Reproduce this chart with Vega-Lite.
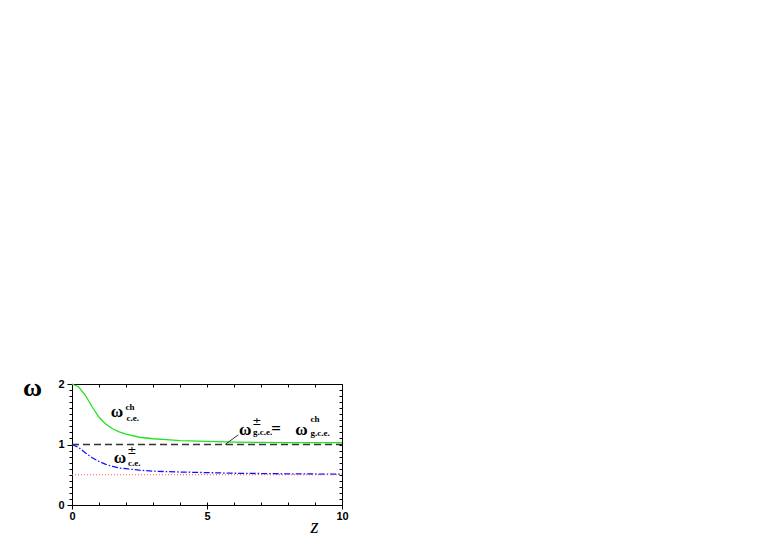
{
  "$schema": "https://vega.github.io/schema/vega-lite/v6.json",
  "width": 270,
  "height": 121,
  "autosize": "none",
  "padding": {"left": 72, "top": 384, "right": 421, "bottom": 40},
  "background": "white",
  "config": {
    "view": {"stroke": "black", "strokeWidth": 1},
    "axis": {"grid": false, "domain": false, "tickColor": "black", "tickWidth": 1, "labelFlush": false, "labelOverlap": false,
      "labelFont": "Liberation Sans", "labelFontWeight": "bold", "labelFontSize": 11, "labelColor": "black"}
  },
  "datasets": {
    "green": [
      {"z": 0, "w": 2.0}, {"z": 0.25, "w": 1.95}, {"z": 0.5, "w": 1.81}, {"z": 0.75, "w": 1.62},
      {"z": 1.0, "w": 1.45}, {"z": 1.25, "w": 1.34}, {"z": 1.5, "w": 1.26}, {"z": 1.75, "w": 1.21},
      {"z": 2.0, "w": 1.17}, {"z": 2.5, "w": 1.12}, {"z": 3.0, "w": 1.095}, {"z": 3.5, "w": 1.08},
      {"z": 4.0, "w": 1.065}, {"z": 5.0, "w": 1.05}, {"z": 6.0, "w": 1.04}, {"z": 7.0, "w": 1.035},
      {"z": 8.0, "w": 1.032}, {"z": 9.0, "w": 1.03}, {"z": 10.0, "w": 1.03}
    ],
    "blue": [
      {"z": 0, "w": 1.0}, {"z": 0.25, "w": 0.95}, {"z": 0.5, "w": 0.86}, {"z": 0.75, "w": 0.78},
      {"z": 1.0, "w": 0.72}, {"z": 1.25, "w": 0.67}, {"z": 1.5, "w": 0.64}, {"z": 1.75, "w": 0.61},
      {"z": 2.0, "w": 0.6}, {"z": 2.5, "w": 0.575}, {"z": 3.0, "w": 0.56}, {"z": 4.0, "w": 0.545},
      {"z": 5.0, "w": 0.535}, {"z": 6.0, "w": 0.525}, {"z": 7.0, "w": 0.52}, {"z": 8.0, "w": 0.515},
      {"z": 9.0, "w": 0.512}, {"z": 10.0, "w": 0.51}
    ],
    "one": [{"z": 0, "w": 1.0}, {"z": 10, "w": 1.0}],
    "half": [{"z": 0, "w": 0.5}, {"z": 10, "w": 0.5}],
    "leader": [{"z": 5.67, "w": 1.0}, {"z": 6.16, "w": 1.16}],
    "omegas": [
      {"z": 1.667, "w": 1.54, "t": "ω"},
      {"z": 1.78, "w": 0.77, "t": "ω"},
      {"z": 6.42, "w": 1.24, "t": "ω"},
      {"z": 7.56, "w": 1.26, "t": "="},
      {"z": 8.5, "w": 1.24, "t": "ω"}
    ],
    "scripts": [
      {"z": 1.98, "w": 1.62, "t": "ch"},
      {"z": 2.02, "w": 1.44, "t": "c.e."},
      {"z": 2.05, "w": 0.9, "t": "±"},
      {"z": 2.07, "w": 0.69, "t": "c.e."},
      {"z": 6.68, "w": 1.37, "t": "±"},
      {"z": 6.7, "w": 1.2, "t": "g.c.e."},
      {"z": 8.83, "w": 1.42, "t": "ch"},
      {"z": 8.83, "w": 1.19, "t": "g.c.e."}
    ]
  },
  "resolve": {"axis": {"x": "independent", "y": "independent"}},
  "layer": [
    {
      "data": {"name": "green"},
      "mark": {"type": "line", "color": "#22e022", "strokeWidth": 1.3},
      "encoding": {
        "x": {"field": "z", "type": "quantitative", "scale": {"domain": [0, 10], "nice": false},
          "axis": {"orient": "bottom", "values": [0, 5, 10], "labelExpr": "toString(datum.value)", "tickSize": 4, "labelPadding": 1,
            "title": "z", "titleFont": "Liberation Serif", "titleFontStyle": "italic", "titleFontWeight": "normal",
            "titleFontSize": 21, "titleX": 242, "titleY": 21, "titleAlign": "center", "titleBaseline": "middle"}},
        "y": {"field": "w", "type": "quantitative", "scale": {"domain": [0, 2], "nice": false},
          "axis": {"orient": "left", "values": [0, 1, 2], "labelExpr": "toString(datum.value)", "tickSize": 5, "labelPadding": 3,
            "title": "ω", "titleFont": "Liberation Serif", "titleFontWeight": "bold", "titleFontSize": 26,
            "titleAngle": 0, "titleX": -40, "titleY": 3, "titleAlign": "center", "titleBaseline": "middle"}}
      }
    },
    {
      "data": {"name": "blue"},
      "mark": {"type": "line", "color": "#1010ff", "strokeWidth": 1.3, "strokeDash": [6, 2, 1.5, 2]},
      "encoding": {
        "x": {"field": "z", "type": "quantitative",
          "axis": {"orient": "bottom", "values": [0, 1, 2, 3, 4, 5, 6, 7, 8, 9, 10], "tickSize": -3, "labels": false, "title": null}},
        "y": {"field": "w", "type": "quantitative",
          "axis": {"orient": "left", "values": [0, 0.1, 0.2, 0.3, 0.4, 0.5, 0.6, 0.7, 0.8, 0.9, 1, 1.1, 1.2, 1.3, 1.4, 1.5, 1.6, 1.7, 1.8, 1.9, 2], "tickSize": 3, "labels": false, "title": null}}
      }
    },
    {
      "data": {"name": "one"},
      "mark": {"type": "line", "color": "#333333", "strokeWidth": 1.5, "strokeDash": [7, 4]},
      "encoding": {
        "x": {"field": "z", "type": "quantitative",
          "axis": {"orient": "top", "values": [0, 1, 2, 3, 4, 5, 6, 7, 8, 9, 10], "tickSize": -3, "labels": false, "title": null}},
        "y": {"field": "w", "type": "quantitative",
          "axis": {"orient": "right", "values": [0, 0.1, 0.2, 0.3, 0.4, 0.5, 0.6, 0.7, 0.8, 0.9, 1, 1.1, 1.2, 1.3, 1.4, 1.5, 1.6, 1.7, 1.8, 1.9, 2], "tickSize": -3, "labels": false, "title": null}}
      }
    },
    {
      "data": {"name": "half"},
      "mark": {"type": "line", "color": "#ff5050", "strokeWidth": 1, "strokeDash": [1, 2]},
      "encoding": {
        "x": {"field": "z", "type": "quantitative", "axis": null},
        "y": {"field": "w", "type": "quantitative", "axis": null}
      }
    },
    {
      "data": {"name": "leader"},
      "mark": {"type": "line", "color": "black", "strokeWidth": 0.8},
      "encoding": {
        "x": {"field": "z", "type": "quantitative", "axis": null},
        "y": {"field": "w", "type": "quantitative", "axis": null}
      }
    },
    {
      "data": {"name": "omegas"},
      "mark": {"type": "text", "font": "Liberation Serif", "fontWeight": "bold", "fontSize": 17, "align": "center", "baseline": "middle", "color": "black"},
      "encoding": {
        "x": {"field": "z", "type": "quantitative", "axis": null},
        "y": {"field": "w", "type": "quantitative", "axis": null},
        "text": {"field": "t"}
      }
    },
    {
      "data": {"name": "scripts"},
      "transform": [{"filter": "datum.t != '±'"}],
      "mark": {"type": "text", "font": "Liberation Serif", "fontWeight": "bold", "fontSize": 9, "align": "left", "baseline": "middle", "color": "black"},
      "encoding": {
        "x": {"field": "z", "type": "quantitative", "axis": null},
        "y": {"field": "w", "type": "quantitative", "axis": null},
        "text": {"field": "t"}
      }
    },
    {
      "data": {"name": "scripts"},
      "transform": [{"filter": "datum.t == '±'"}],
      "mark": {"type": "text", "font": "DejaVu Sans", "fontWeight": "normal", "fontSize": 11, "align": "left", "baseline": "middle", "color": "black"},
      "encoding": {
        "x": {"field": "z", "type": "quantitative", "axis": null},
        "y": {"field": "w", "type": "quantitative", "axis": null},
        "text": {"field": "t"}
      }
    }
  ]
}
